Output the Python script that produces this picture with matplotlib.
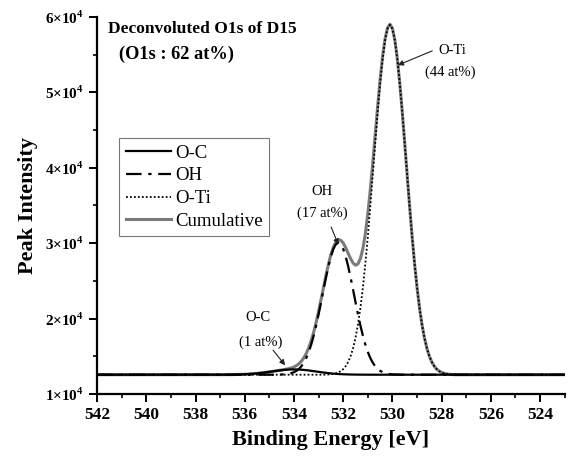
import numpy as np
import matplotlib
matplotlib.use("Agg")
import matplotlib.pyplot as plt
from matplotlib.ticker import MultipleLocator, FuncFormatter

plt.rcParams['font.family'] = ['Liberation Serif', 'DejaVu Serif']
plt.rcParams['mathtext.fontset'] = 'custom'
plt.rcParams['mathtext.rm'] = 'Liberation Serif'
plt.rcParams['mathtext.bf'] = 'Liberation Serif:bold'

# ---- data ----
grid = [round(537.0 - 0.1 * i, 1) for i in range(96)]   # binding energy grid, eV
energy = [542.0] + grid + [523.0]
baseline = 12550

oc_vals = ([3, 4, 6, 8, 11, 15, 20, 27, 35, 46, 59, 75, 95, 118, 144, 175, 209, 247,
            288, 332, 378, 425, 472, 517, 560, 600, 634, 662, 683, 696, 700,
            696, 683, 662, 634, 600, 560, 517, 472, 425, 378, 332, 288, 247, 209,
            175, 144, 118, 95, 75, 59, 46, 35, 27, 20, 15, 11, 8, 6, 4, 3] + [0] * 35)
oh_vals = ([0] * 23 +
           [8, 15, 27, 48, 80, 132, 214, 335, 515, 768, 1120, 1600, 2220, 3020, 3990,
            5160, 6510, 8010, 9620, 11280, 12900, 14400, 15680, 16670, 17290, 17500,
            17290, 16670, 15680, 14400, 12900, 11280, 9620, 8010, 6510, 5160, 3990,
            3020, 2220, 1600, 1120, 768, 515, 335, 214, 132, 80, 48, 27, 15, 8] + [0] * 22)
oti_vals = ([0] * 44 +
            [36, 62, 107, 179, 294, 470, 737, 1130, 1680, 2460, 3510, 4890, 6670, 8890,
             11570, 14720, 18310, 22260, 26440, 30690, 34820, 38610, 41850, 44320,
             45870, 46400, 45870, 44320, 41850, 38610, 34820, 30690, 26440, 22260,
             18310, 14720, 11570, 8890, 6670, 4890, 3510, 2460, 1680, 1130, 737, 470,
             294, 179, 107, 62, 36] + [0])

x = np.array(energy)
oc_arr = np.array([0] + oc_vals + [0])
oh_arr = np.array([0] + oh_vals + [0])
oti_arr = np.array([0] + oti_vals + [0])
oc = baseline + oc_arr
oh = baseline + oh_arr
oti = baseline + oti_arr
cum = baseline + oc_arr + oh_arr + oti_arr

fig = plt.figure(figsize=(5.71, 4.57), dpi=100)
ax = fig.add_axes([0.170, 0.138, 0.819, 0.825])

ax.plot(x, cum, color='#7a7a7a', lw=2.2, label='Cumulative', zorder=2)
ax.plot(x, oc, color='black', lw=1.6, ls='-', label='O-C', zorder=3)
ax.plot(x, oh, color='black', lw=1.6, ls=(0, (7, 3, 1.5, 3)), label='OH', zorder=3)
ax.plot(x, oti, color='black', lw=1.3, ls=(0, (1, 1.2)), label='O-Ti', zorder=3)

ax.set_xlim(542, 523)
ax.set_ylim(1e4, 6e4)
ax.xaxis.set_major_locator(MultipleLocator(2))
ax.xaxis.set_minor_locator(MultipleLocator(1))
ax.yaxis.set_major_locator(MultipleLocator(1e4))
ax.yaxis.set_minor_locator(MultipleLocator(5e3))
ax.yaxis.set_major_formatter(FuncFormatter(lambda v, p: r'%d×10$^{\mathbf{4}}$' % round(v / 1e4)))
ax.xaxis.set_major_formatter(FuncFormatter(lambda v, p: '%d' % round(v)))

for s in ['top', 'right']:
    ax.spines[s].set_visible(False)
for s in ['left', 'bottom']:
    ax.spines[s].set_linewidth(1.6)
ax.tick_params(which='major', length=6, width=1.4, direction='out', labelsize=12.5)
ax.tick_params(which='minor', length=3, width=1.2, direction='out')
for lab in ax.get_xticklabels() + ax.get_yticklabels():
    lab.set_fontweight('bold')
ax.tick_params(axis='y', labelsize=11)

ax.set_xlabel('Binding Energy [eV]', fontsize=16, fontweight='bold', labelpad=5)
ax.set_ylabel('Peak Intensity', fontsize=16, fontweight='bold', labelpad=5)

ax.text(0.023, 0.967, 'Deconvoluted O1s of D15', transform=ax.transAxes,
        fontsize=12.5, fontweight='bold', va='center', ha='left')
ax.text(0.047, 0.9, '(O1s : 62 at%)', transform=ax.transAxes,
        fontsize=13.2, fontweight='bold', va='center', ha='left')

handles, labels = ax.get_legend_handles_labels()
order = [1, 2, 3, 0]
leg = ax.legend([handles[i] for i in order], [labels[i] for i in order],
                loc='upper left', bbox_to_anchor=(0.047, 0.679), fontsize=13.5,
                frameon=True, fancybox=False, edgecolor='#555555',
                handlelength=2.4, handletextpad=0.25, borderpad=0.35,
                labelspacing=0.3, borderaxespad=0)
leg.get_frame().set_linewidth(0.8)

# annotations
ann_kw = dict(fontsize=10.5, ha='center', va='center')
arrow_kw = dict(arrowstyle='-|>', color='#222222', lw=0.8, mutation_scale=8,
                shrinkA=0, shrinkB=0)
ax.text(527.57, 5.56e4, 'O-Ti', **ann_kw)
ax.text(527.65, 5.27e4, '(44 at%)', **ann_kw)
ax.annotate('', xy=(529.78, 5.36e4), xytext=(528.38, 5.55e4), arrowprops=arrow_kw)

ax.text(532.85, 3.68e4, 'OH', **ann_kw)
ax.text(532.85, 3.39e4, '(17 at%)', **ann_kw)
ax.annotate('', xy=(532.2, 2.98e4), xytext=(532.49, 3.215e4), arrowprops=arrow_kw)

ax.text(535.46, 2.01e4, 'O-C', **ann_kw)
ax.text(535.37, 1.69e4, '(1 at%)', **ann_kw)
ax.annotate('', xy=(534.36, 1.38e4), xytext=(534.85, 1.58e4), arrowprops=arrow_kw)

fig.savefig('out.png', dpi=100)
